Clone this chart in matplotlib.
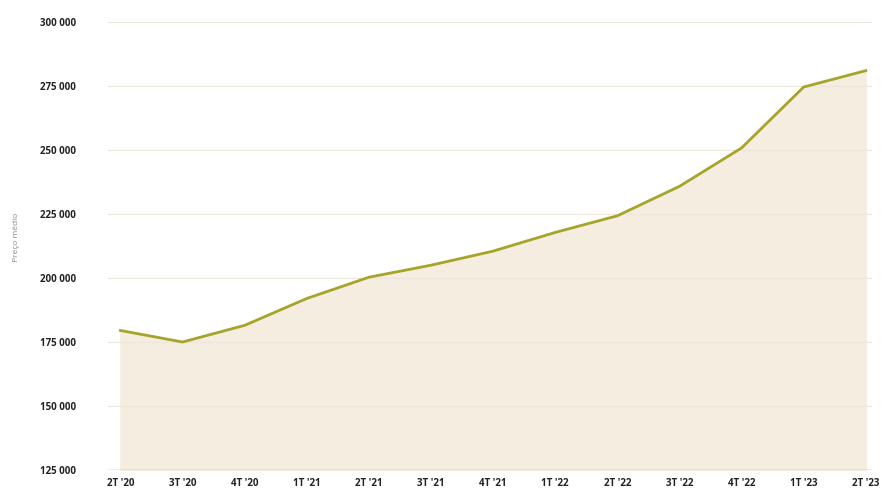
import matplotlib
matplotlib.use("Agg")
import matplotlib.pyplot as plt
import numpy as np
from matplotlib.ticker import FuncFormatter

# Dados (preço por trimestre)
trimestres = ["2T '20", "3T '20", "4T '20", "1T '21", "2T '21", "3T '21", "4T '21",
              "1T '22", "2T '22", "3T '22", "4T '22", "1T '23", "2T '23"]
precos = [179500, 175000, 181500, 192000, 200300, 205000, 210500,
          217800, 224300, 235800, 250800, 274600, 281000]
y_ticks = [125000, 150000, 175000, 200000, 225000, 250000, 275000, 300000]

plt.rcParams['font.family'] = ['Open Sans', 'DejaVu Sans']

fig = plt.figure(figsize=(8.84, 4.92), dpi=100)
ax = fig.add_axes([108 / 884, 22 / 492, 764 / 884, 448 / 492])

x = np.arange(len(trimestres))
ax.fill_between(x, precos, 125000, color='#f5eddf', zorder=1)
ax.plot(x, precos, color='#a6a42a', linewidth=2.0, zorder=3)

ax.set_xlim(-0.2, 12.1)
ax.set_ylim(125000, 300000)
ax.set_yticks(y_ticks)
ax.yaxis.set_major_formatter(FuncFormatter(lambda v, p: f"{int(v):,}".replace(",", " ")))
ax.set_xticks(x)
ax.set_xticklabels(trimestres)

# Grade horizontal suave
ax.grid(axis='y', color='#ece6dc', linewidth=0.8, zorder=2)
ax.axhline(125000, color='#a8a8a8', linewidth=1.0, zorder=2)
ax.set_axisbelow(False)

for s in ax.spines.values():
    s.set_visible(False)
ax.tick_params(axis='both', length=0, labelsize=7, colors='#222222')
ax.tick_params(axis='y', pad=23)
ax.tick_params(axis='x', pad=6)
for lbl in ax.get_xticklabels() + ax.get_yticklabels():
    lbl.set_fontweight('bold')

ax.set_ylabel('Preço médio', fontsize=6, color='#8a8a8a')
ax.yaxis.set_label_coords(-0.115, 0.52)

plt.savefig('out.png', dpi=100)
